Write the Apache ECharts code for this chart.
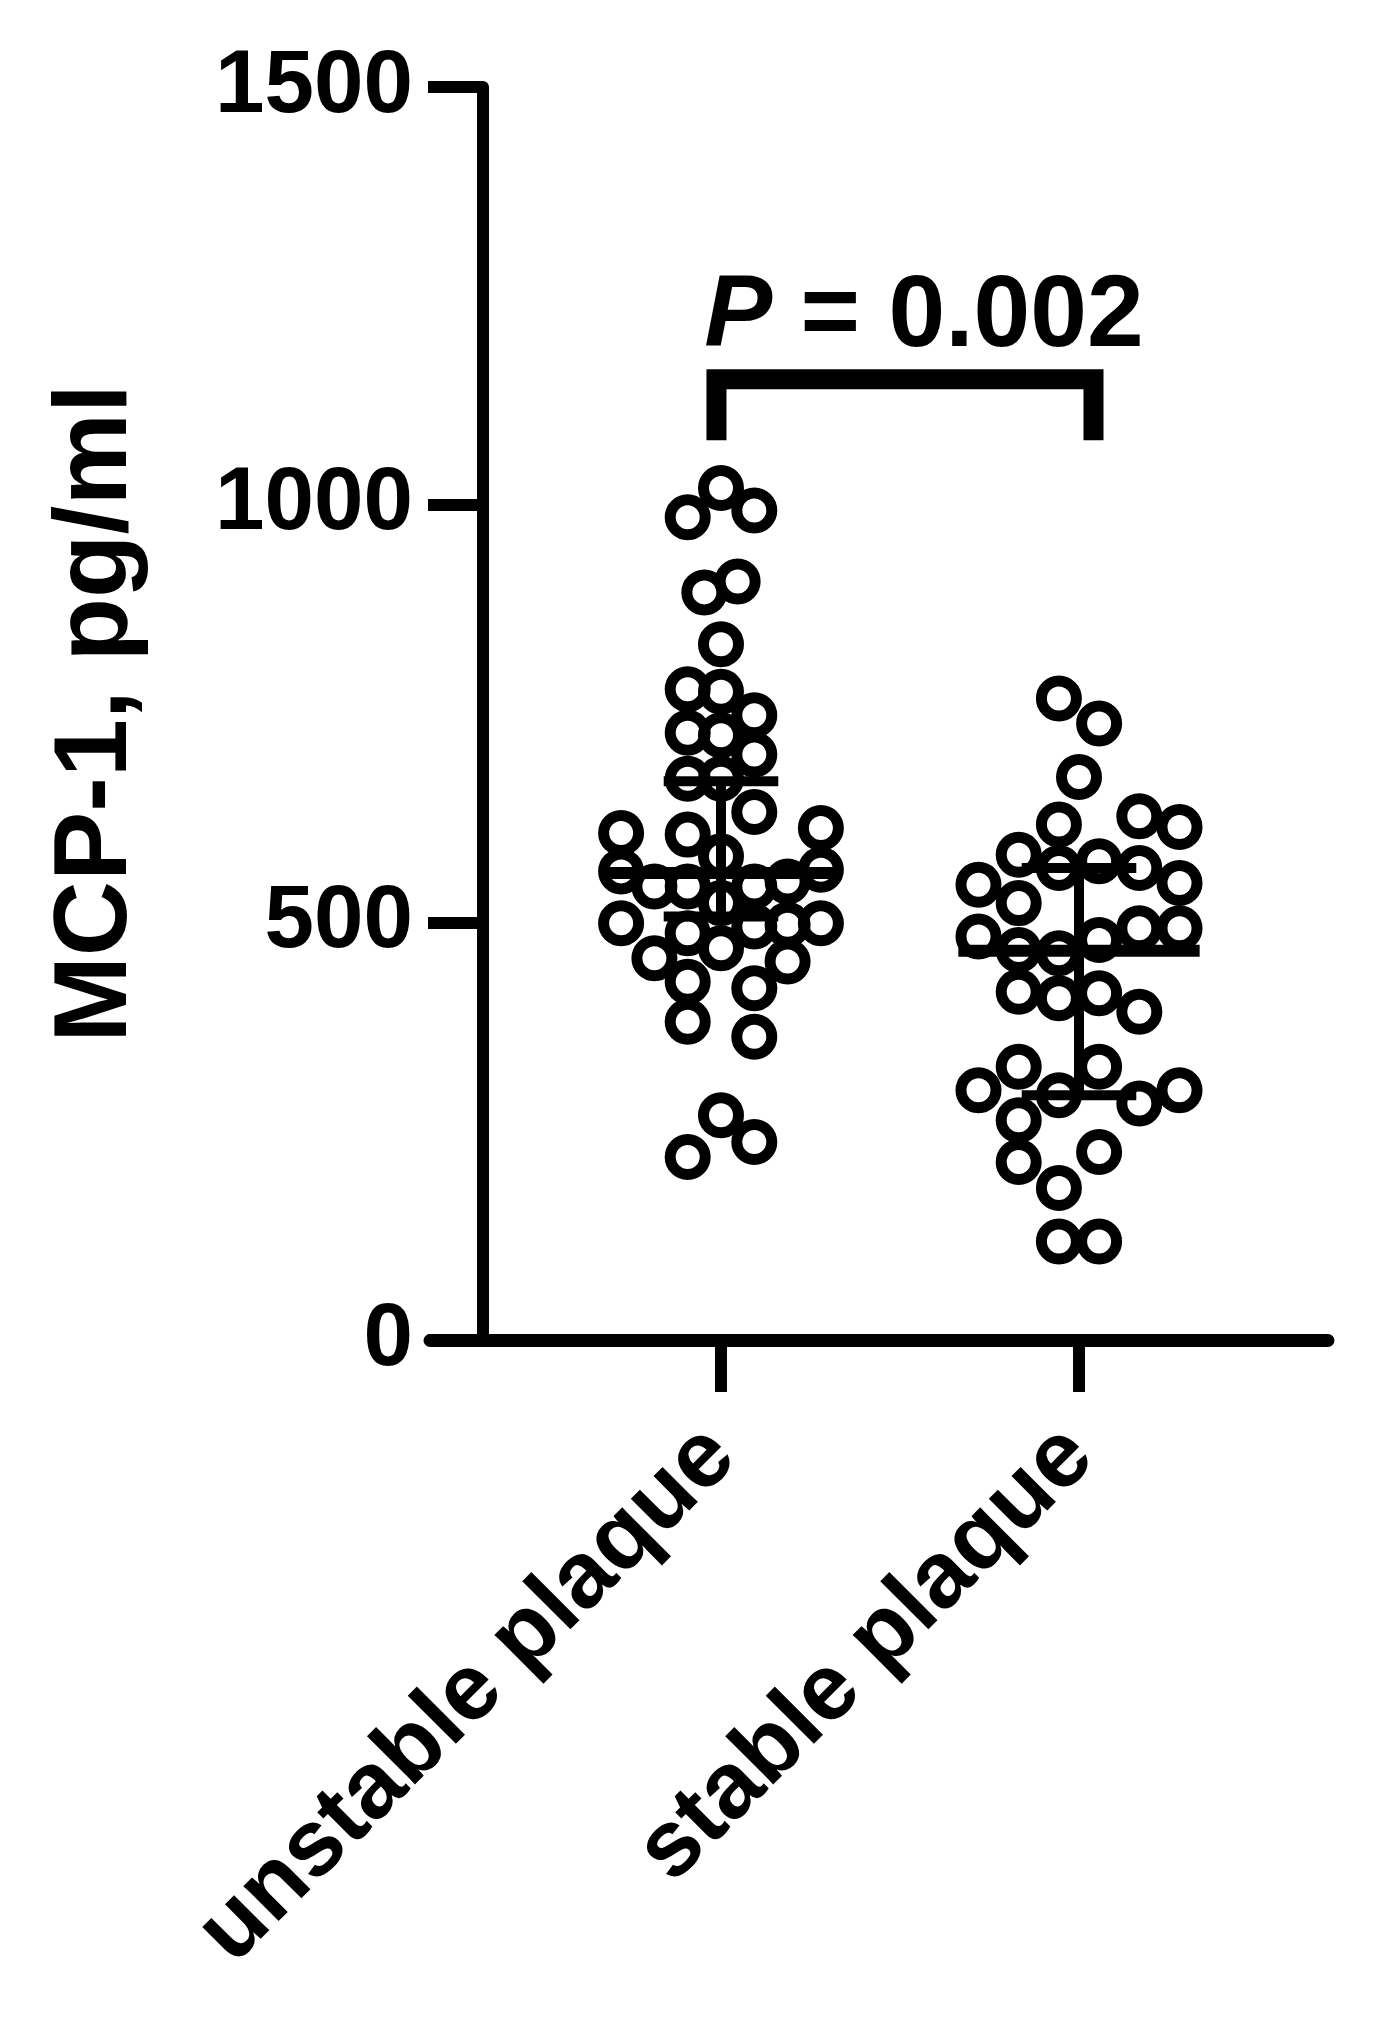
<!DOCTYPE html>
<html>
<head>
<meta charset="utf-8">
<script src="https://cdn.jsdelivr.net/npm/echarts@6/dist/echarts.min.js"></script>
<style>
html,body{margin:0;padding:0;background:#fff;}
#chart{width:1376px;height:2041px;}
</style>
</head>
<body>
<div id="chart"></div>
<script>
// ---- data ----
var categories = ['unstable plaque', 'stable plaque'];
var yTicks = [0, 500, 1000, 1500];

// MCP-1 values (pg/ml) and swarm column slot of every point
var unstableValues = [1020, 985, 993, 895, 908, 833, 779, 776, 748, 727, 724, 701, 672, 672, 632,
  607, 605, 613, 579, 561, 563, 543, 543, 543, 549, 523, 499, 499, 487, 495, 497, 469, 457, 453,
  429, 421, 381, 363, 269, 219, 237];
var unstableSlots = [0, -1, 1, -0.5, 0.5, 0, -1, 0, 1, -1, 0, 1, -1, 0, 1,
  -3, -1, 3, 0, -3, 3, -2, -1, 1, 2, 0, -3, 3, -1, 1, 2, 0, -2, 2,
  -1, 1, -1, 1, 0, -1, 1];

var stableValues = [768, 738, 674, 627, 617, 614, 581, 573, 565, 565, 547, 545, 523, 493, 493,
  483, 479, 467, 463, 417, 409, 415, 393, 327, 327, 299, 299, 293, 283, 263, 225, 213, 182, 118, 118];
var stableSlots = [-0.5, 0.5, 0, 1.5, -0.5, 2.5, -1.5, 0.5, -0.5, 1.5, 2.5, -2.5, -1.5, 1.5, 2.5,
  -2.5, 0.5, -1.5, -0.5, -1.5, -0.5, 0.5, 1.5, -1.5, 0.5, -2.5, 2.5, -0.5, 1.5, -1.5, 0.5, -1.5, -0.5, -0.5, 0.5];

// median with interquartile range
var medians = [559, 466];
var q1Values = [507, 293];
var q3Values = [669, 565];

var pLabel = 'P = 0.002';
var bracketTop = 1150;
var bracketBottom = 1077;

// ---- build options ----
var FONT = 'Arial, "Liberation Sans", Helvetica, sans-serif';
function swarm(values, slots, catIndex, step) {
  return values.map(function (v, i) { return [catIndex + slots[i] * step, v]; });
}
var unstablePts = swarm(unstableValues, unstableSlots, 1, 0.093);
var stablePts = swarm(stableValues, stableSlots, 2, 0.1123);

var statData = medians.map(function (m, i) { return [i + 1, q1Values[i], m, q3Values[i]]; });

var circleStyle = { color: 'transparent', borderColor: '#000', borderWidth: 11, opacity: 1 };

var option = {
  backgroundColor: '#fff',
  animation: false,
  grid: { left: 430, right: 48, top: 87, bottom: 701, outerBoundsMode: 'none', containLabel: false },
  xAxis: {
    type: 'value', min: 0.1872, max: 2.6955,
    splitLine: { show: false },
    axisLine: { show: true, onZero: false, lineStyle: { color: '#000', width: 13 } },
    axisTick: { show: true, customValues: [1, 2], length: 52, lineStyle: { color: '#000', width: 12 } },
    axisLabel: {
      show: true, customValues: [1, 2], rotate: 45, margin: 102,
      color: '#000', fontSize: 94, fontWeight: 'bold', fontFamily: FONT,
      formatter: function (v) { return categories[Math.round(v) - 1] || ''; }
    }
  },
  yAxis: {
    type: 'value', min: 0, max: 1500, interval: 500, offset: -53,
    splitLine: { show: false },
    axisLine: { show: true, onZero: false, lineStyle: { color: '#000', width: 12 } },
    axisTick: { show: true, length: 55, lineStyle: { color: '#000', width: 12 } },
    axisLabel: {
      margin: 70, color: '#000', fontSize: 89, fontWeight: 'bold', fontFamily: FONT,
      customValues: yTicks,
      formatter: function (v) { return String(v); }
    },
    name: 'MCP-1, pg/ml', nameLocation: 'middle', nameGap: 334,
    nameTextStyle: { color: '#000', fontSize: 104, fontWeight: 'bold', fontFamily: FONT }
  },
  series: [
    {
      type: 'scatter', data: unstablePts, symbol: 'circle', symbolSize: 35,
      itemStyle: circleStyle, z: 3
    },
    {
      type: 'scatter', data: stablePts, symbol: 'circle', symbolSize: 35,
      itemStyle: circleStyle, z: 3
    },
    {
      type: 'custom', data: statData, z: 4,
      renderItem: function (params, api) {
        var c = api.value(0), lo = api.value(1), md = api.value(2), hi = api.value(3);
        var mL = api.coord([c - 0.337, md]), mR = api.coord([c + 0.337, md]);
        var cL1 = api.coord([c - 0.16, lo]), cR1 = api.coord([c + 0.16, lo]);
        var cL3 = api.coord([c - 0.16, hi]), cR3 = api.coord([c + 0.16, hi]);
        var vT = api.coord([c, hi]), vB = api.coord([c, lo]);
        var st = { stroke: '#000', lineWidth: 10, fill: null };
        return {
          type: 'group',
          children: [
            { type: 'line', shape: { x1: mL[0], y1: mL[1], x2: mR[0], y2: mR[1] }, style: { stroke: '#000', lineWidth: 12 } },
            { type: 'line', shape: { x1: vT[0], y1: vT[1], x2: vB[0], y2: vB[1] }, style: st },
            { type: 'line', shape: { x1: cL1[0], y1: cL1[1], x2: cR1[0], y2: cR1[1] }, style: st },
            { type: 'line', shape: { x1: cL3[0], y1: cL3[1], x2: cR3[0], y2: cR3[1] }, style: st }
          ]
        };
      }
    },
    {
      type: 'line', symbol: 'none', silent: true, z: 5,
      data: [[0.9874, bracketBottom], [0.9874, bracketTop], [2.0405, bracketTop], [2.0405, bracketBottom]],
      lineStyle: { color: '#000', width: 20, join: 'miter', cap: 'butt', opacity: 1 }
    },
    {
      type: 'scatter', silent: true, z: 6, symbolSize: 1,
      itemStyle: { color: 'transparent', opacity: 1 },
      data: [[1.567, 1224]],
      label: {
        show: true, position: 'inside', align: 'center', verticalAlign: 'middle',
        color: '#000', opacity: 1,
        formatter: '{it|P}{n| = 0.002}',
        rich: {
          it: { fontSize: 102, fontWeight: 'bold', fontStyle: 'italic', fontFamily: FONT, color: '#000' },
          n: { fontSize: 102, fontWeight: 'bold', fontFamily: FONT, color: '#000' }
        }
      }
    }
  ]
};

var chart = echarts.init(document.getElementById('chart'), null, { renderer: 'canvas' });
chart.setOption(option);
</script>
</body>
</html>
